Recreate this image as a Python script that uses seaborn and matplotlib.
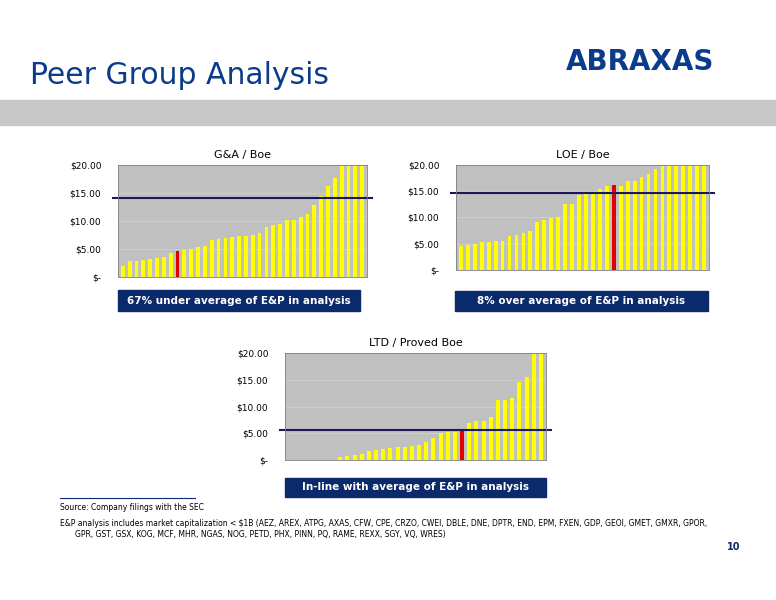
import matplotlib
matplotlib.use("Agg")
import matplotlib.pyplot as plt
import seaborn as sns
import pandas as pd
from matplotlib.patches import Rectangle

ga_vals = [2.0,2.9,2.9,3.1,3.2,3.4,3.5,4.2,4.6,4.8,5.0,5.4,5.5,6.6,6.8,7.0,7.2,7.4,7.4,7.5,7.9,8.9,9.3,9.4,10.1,10.1,10.7,11.2,12.9,14.4,16.2,17.6,20,20,20,20]
ga_red = 8
ga_avg = 14.1
loe_vals = [4.5,4.7,5.0,5.3,5.3,5.6,5.6,6.4,6.7,7.1,7.4,9.2,9.6,9.9,10.0,12.5,12.6,14.3,14.4,14.9,15.5,16.0,16.1,16.0,16.9,17.0,17.7,18.2,19.2,20,20,20,20,20,20,20]
loe_red = 22
loe_avg = 14.6
ltd_vals = [0,0,0,0,0,0,0,0.6,0.8,0.9,1.1,1.6,1.9,2.1,2.3,2.4,2.5,2.6,2.8,3.3,4.2,5.0,5.2,5.2,5.7,6.9,7.2,7.3,8.0,11.3,11.3,11.6,14.6,15.6,20,20]
ltd_red = 24
ltd_avg = 5.7
yticks = [0,5,10,15,20]
ytick_labels = ["$-","$5.00","$10.00","$15.00","$20.00"]

W, H = 776, 600
fig = plt.figure(figsize=(W/100, H/100), dpi=100)
NAVY = "#0B2A6B"

def ax_px(x0, y0, x1, y1):
    return fig.add_axes([x0/W, 1-y1/H, (x1-x0)/W, (y1-y0)/H])

def chart(box, vals, red, avg, title, label, lbox):
    ax = ax_px(*box)
    df = pd.DataFrame({"i": range(len(vals)), "v": vals})
    cols = ["#E00000" if i == red else "#FFFF00" for i in range(len(vals))]
    sns.barplot(data=df, x="i", y="v", hue="i", palette=cols, legend=False, width=0.55, ax=ax, saturation=1)
    ax.set_facecolor("#C0C0C0")
    ax.set_ylim(0, 20)
    ax.set_xlim(-0.7, len(vals)-0.3)
    ax.set_yticks(yticks, ytick_labels, fontsize=6.5)
    ax.set_xticks([])
    ax.set_xlabel(""); ax.set_ylabel("")
    for y in [5,10,15]:
        ax.axhline(y, color="#D0D0D0", lw=0.6, zorder=0)
    ax.axhline(avg, color="#1A1A5A", lw=1.5, clip_on=False, xmin=-0.02, xmax=1.02)
    for s in ax.spines.values():
        s.set_color("#808080"); s.set_linewidth(0.6)
    ax.tick_params(length=0, pad=12)
    ax.set_title(title, fontsize=8, pad=5)
    x0, y0, x1, y1 = lbox
    fig.patches.append(Rectangle((x0/W, 1-y1/H), (x1-x0)/W, (y1-y0)/H, transform=fig.transFigure, color=NAVY))
    fig.text((x0+x1)/2/W, 1-(y0+y1)/2/H, label, color="white", fontsize=7.5, fontweight="bold", ha="center", va="center")

chart((118,165,367,277), ga_vals, ga_red, ga_avg, "G&A / Boe", "67% under average of E&P in analysis", (118,290,360,311))
chart((456,165,709,270), loe_vals, loe_red, loe_avg, "LOE / Boe", "8% over average of E&P in analysis", (455,291,708,311))
chart((285,353,546,460), ltd_vals, ltd_red, ltd_avg, "LTD / Proved Boe", "In-line with average of E&P in analysis", (285,478,546,497))

fig.text(30/W, 1-75/H, "Peer Group Analysis", fontsize=21.5, color="#0B3C8C", va="center")
fig.text(640/W, 1-62/H, "ABRAXAS", fontsize=20, color="#0B3C8C", fontweight="bold", ha="center", va="center")
fig.patches.append(Rectangle((0, 1-125/H), 1, 25/H, transform=fig.transFigure, color="#C8C8C8"))
fig.lines.append(plt.Line2D([60/W, 195/W], [1-498/H]*2, transform=fig.transFigure, color=NAVY, lw=0.8))
fig.text(60/W, 1-508/H, "Source: Company filings with the SEC", fontsize=5.5, va="center")
fig.text(60/W, 1-524/H, "E&P analysis includes market capitalization < $1B (AEZ, AREX, ATPG, AXAS, CFW, CPE, CRZO, CWEI, DBLE, DNE, DPTR, END, EPM, FXEN, GDP, GEOI, GMET, GMXR, GPOR,", fontsize=5.5, va="center")
fig.text(75/W, 1-535/H, "GPR, GST, GSX, KOG, MCF, MHR, NGAS, NOG, PETD, PHX, PINN, PQ, RAME, REXX, SGY, VQ, WRES)", fontsize=5.5, va="center")
fig.text(727/W, 1-547/H, "10", fontsize=7, fontweight="bold", color=NAVY, va="center")
fig.savefig("out.png", dpi=100)
